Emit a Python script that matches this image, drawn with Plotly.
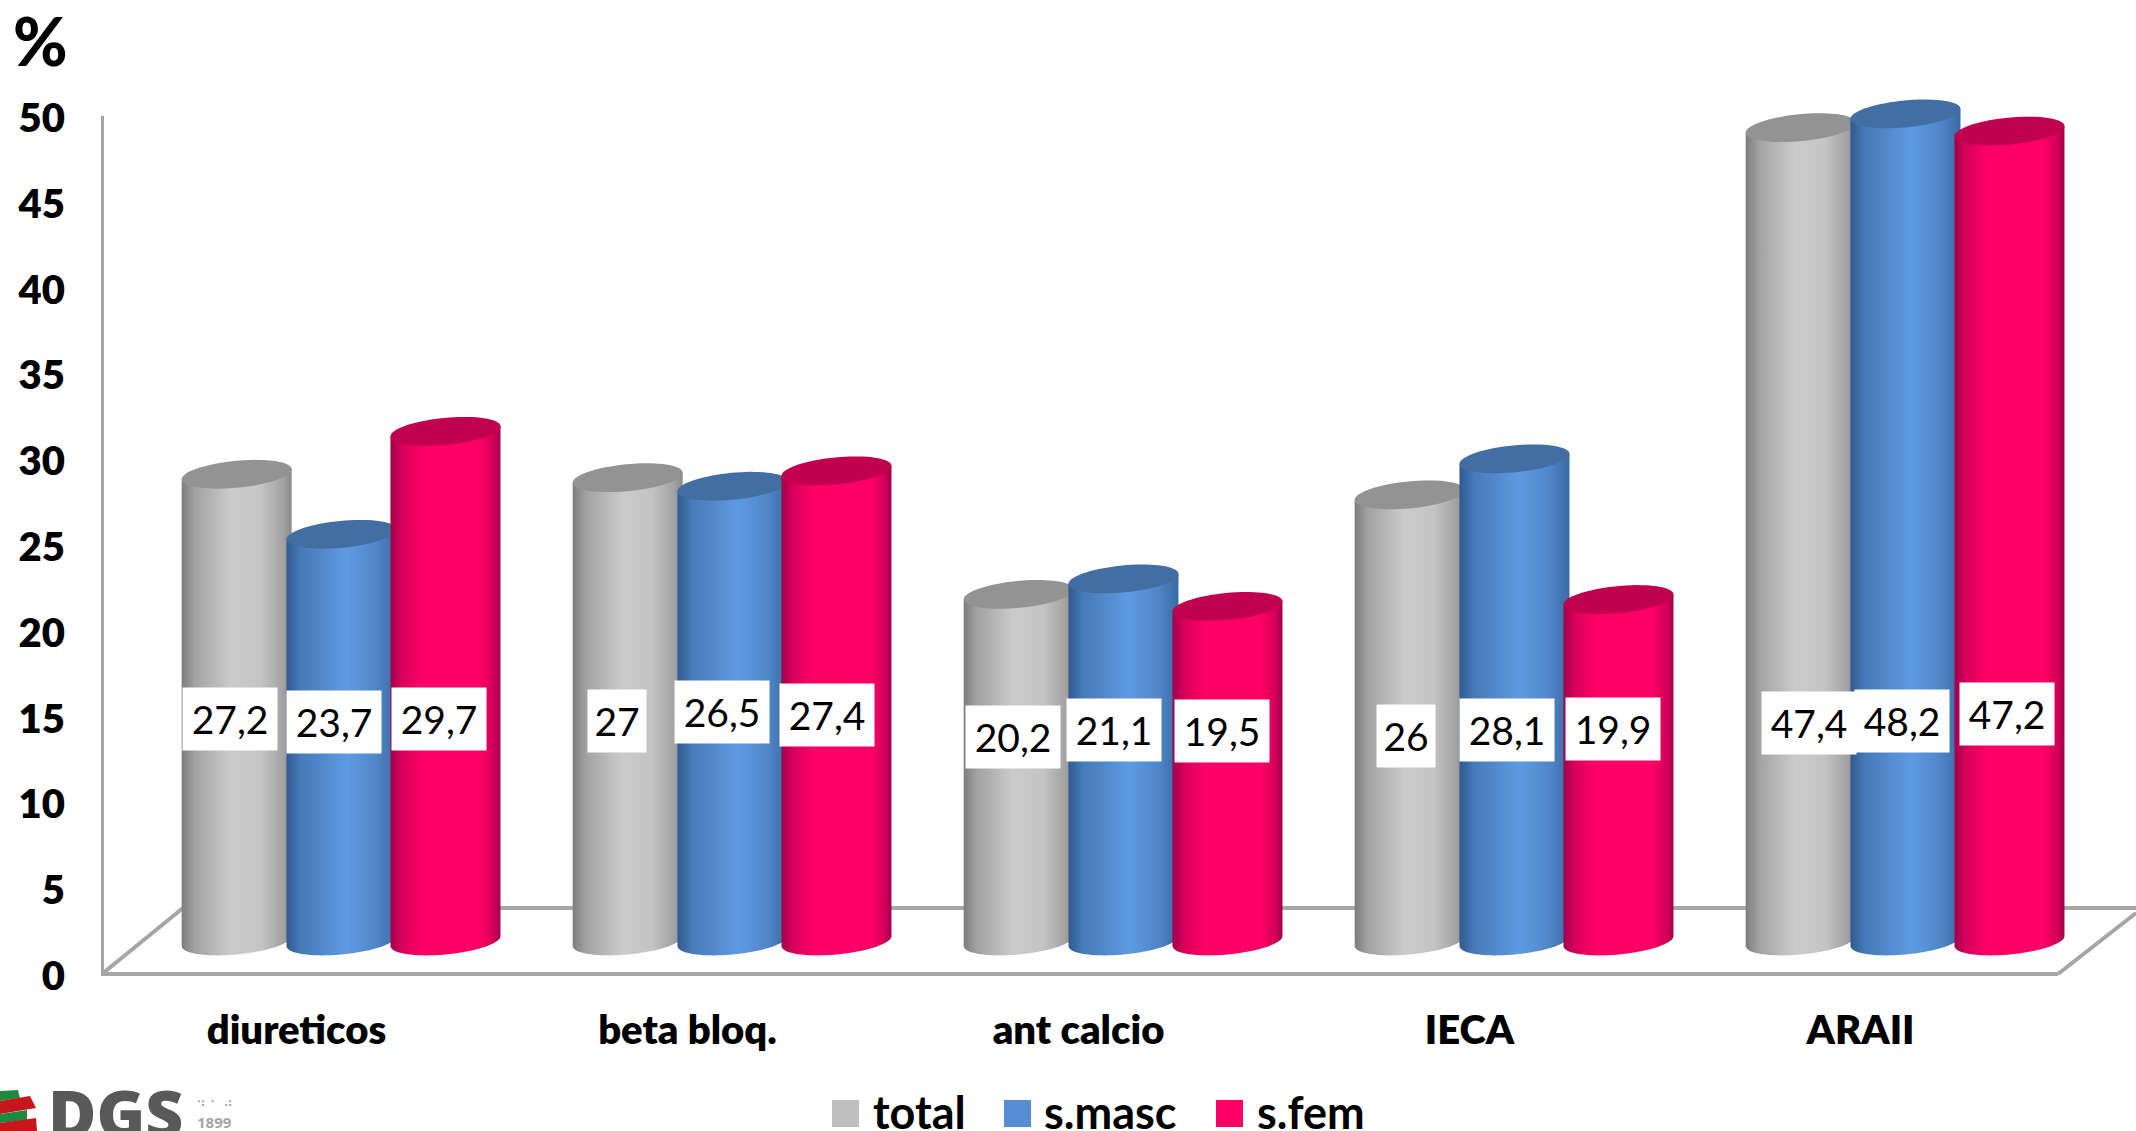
import numpy as np
import plotly.graph_objects as go

CATEGORIES = ["diureticos", "beta bloq.", "ant calcio", "IECA", "ARAII"]
TOTAL = [27.2, 27, 20.2, 26, 47.4]
S_MASC = [23.7, 26.5, 21.1, 28.1, 48.2]
S_FEM = [29.7, 27.4, 19.5, 19.9, 47.2]
TOTAL_TXT = ["27,2", "27", "20,2", "26", "47,4"]
S_MASC_TXT = ["23,7", "26,5", "21,1", "28,1", "48,2"]
S_FEM_TXT = ["29,7", "27,4", "19,5", "19,9", "47,2"]
Y_TICKS = [0, 5, 10, 15, 20, 25, 30, 35, 40, 45, 50]

W, H = 2136, 1131
L, R_PX, T, B_PLOT = 101, 2136, 60, 990  # plot box in pixels
B, AX_TOP = 974, 116                     # pixel heights of the values 0 and 50
PX_X = 391.0
PX_Y = (B - AX_TOP) / 50.0
X0 = -0.5
X1 = X0 + (R_PX - L) / PX_X
FONT = "Lato"
AXC = "#a6a6a6"

def dx(px): return px / PX_X
def dy(px): return px / PX_Y
def X(px): return (px - L) / PX_X + X0
def Y(py): return (B - py) / PX_Y
def PXR(px): return (px - L) / (R_PX - L)
def PYR(py): return (B_PLOT - py) / (B_PLOT - T)

BASE = dy(33)
RX, RY, TILT = dx(55), dy(13.5), dy(5)

STYLE = [
    dict(name="total", vals=TOTAL, txt=TOTAL_TXT, off=-0.153, swatch="#bfbfbf", top="#939393",
         grad=[[0, "#7d7d7d"], [.12, "#a2a2a2"], [.45, "#cbcbcb"], [.72, "#c4c4c4"], [.92, "#a3a3a3"], [1, "#8a8a8a"]]),
    dict(name="s.masc", vals=S_MASC, txt=S_MASC_TXT, off=0.115, swatch="#558ed5", top="#426ea3",
         grad=[[0, "#2f5a8e"], [.13, "#467ab8"], [.55, "#5f9ae2"], [.82, "#4f86c8"], [1, "#3a6ba3"]]),
    dict(name="s.fem", vals=S_FEM, txt=S_FEM_TXT, off=0.381, swatch="#ff0066", top="#c0004e",
         grad=[[0, "#a0004a"], [.1, "#d6005a"], [.3, "#ff0066"], [.8, "#ff0066"], [.93, "#d6005a"], [1, "#a0004c"]]),
]

fig = go.Figure()
t_low = np.linspace(np.pi, 0, 40)
t_all = np.linspace(0, 2 * np.pi, 72)

legend_ids = ["legend", "legend2", "legend3"]
for s, lid in zip(STYLE, legend_ids):
    xs = [i + s["off"] for i in range(len(CATEGORIES))]
    fig.add_trace(go.Bar(
        x=xs, y=s["vals"], base=BASE, width=dx(96), name=s["name"], legend=lid,
        marker=dict(color=s["swatch"], line=dict(width=0)),
    ))

for s in STYLE:
    for i, v in enumerate(s["vals"]):
        cx, top = i + s["off"], BASE + v
        bx = cx + RX * np.cos(t_low)
        by = BASE - RY * np.sin(t_low) + TILT * np.cos(t_low)
        fig.add_trace(go.Scatter(
            x=[cx - RX] + list(bx) + [cx + RX, cx - RX],
            y=[top - TILT] + list(by) + [top + TILT, top - TILT],
            mode="none", fill="toself", fillcolor=s["swatch"],
            fillgradient=dict(type="horizontal", colorscale=s["grad"]),
            showlegend=False, hoverinfo="skip",
        ))
        fig.add_trace(go.Scatter(
            x=cx + RX * np.cos(t_all), y=top + RY * np.sin(t_all) + TILT * np.cos(t_all),
            mode="none", fill="toself", fillcolor=s["top"],
            showlegend=False, hoverinfo="skip",
        ))

# Floor of the 3-D box and the vertical axis
floor = [
    ((102, AX_TOP), (102, 974)),
    ((100, 974), (2058, 974)),
    ((102, 974), (183, 908)),
    ((183, 908), (2136, 908)),
    ((2058, 974), (2136, 913)),
]
shapes = [dict(type="line", xref="x", yref="y", x0=X(a[0]), y0=Y(a[1]), x1=X(b[0]), y1=Y(b[1]),
               line=dict(color=AXC, width=4), layer="below") for a, b in floor]

# Data labels
LABEL_X = [[230, 334, 439], [617, 722, 827], [1013, 1114, 1222], [1406, 1507, 1613], [1809, 1902, 2007]]
LABEL_Y = [[719, 722, 719], [721, 712, 715], [737, 730, 731], [736, 730, 729], [723, 721, 714]]
ann = []
for i in range(5):
    for j, s in enumerate(STYLE):
        t = s["txt"][i]
        ann.append(dict(x=X(LABEL_X[i][j]), y=Y(LABEL_Y[i][j]), text=t, showarrow=False,
                        xref="x", yref="y", bgcolor="white", width=92 if len(t) > 2 else 56, height=60,
                        font=dict(family=FONT, size=39, color="black")))

def note(px, py, text, family, size, color, weight="normal"):
    ann.append(dict(x=PXR(px), y=PYR(py), xref="paper", yref="paper", text=text, showarrow=False,
                    xanchor="center", yanchor="middle",
                    font=dict(family=family, size=size, color=color, weight=weight)))

note(40, 41, "%", FONT, 66, "black", 900)

# Legend colour squares
for px0, c in zip([832, 1004, 1216], ["#bfbfbf", "#558ed5", "#ff0066"]):
    shapes.append(dict(type="rect", xref="paper", yref="paper", x0=PXR(px0), x1=PXR(px0 + 27),
                       y0=PYR(1127), y1=PYR(1100), fillcolor=c, line=dict(width=0), layer="above"))

# DGS logo
def poly(pts, c):
    d = "M" + "L".join(f"{PXR(a)},{PYR(b)}" for a, b in pts) + "Z"
    return dict(type="path", xref="paper", yref="paper", path=d, fillcolor=c, line=dict(width=0), layer="above")
shapes += [
    poly([(0, 1091), (18, 1090), (20, 1098), (0, 1101)], "#1f8a3f"),
    poly([(0, 1101), (30, 1096), (36, 1108), (0, 1114)], "#c8161d"),
    poly([(0, 1114), (27, 1110), (27, 1120), (0, 1123)], "#1f8a3f"),
    poly([(0, 1123), (36, 1118), (37, 1131), (0, 1131)], "#c8161d"),
]
note(115, 1112, "DGS", "Open Sans", 66, "#595959", 800)
note(214, 1122, "<b>1899</b>", "Open Sans", 15, "#a6a6a6")
note(214, 1102, "⠲ ⠂ ⠴", "DejaVu Sans", 13, "#a6a6a6")

leg = dict(yanchor="middle", xanchor="left", bgcolor="rgba(0,0,0,0)", borderwidth=0,
           font=dict(family=FONT, size=45, color="black", weight="bold"), orientation="h", y=PYR(1112))
fig.update_layout(
    width=W, height=H, paper_bgcolor="white", plot_bgcolor="white",
    margin=dict(l=L, r=W - R_PX, t=T, b=H - B_PLOT, pad=0, autoexpand=False),
    barmode="overlay", bargap=0,
    xaxis=dict(range=[X0, X1], tickmode="array", tickvals=list(range(5)), ticktext=list(CATEGORIES),
               showgrid=False, zeroline=False, showline=False, ticks="", ticklabelstandoff=13,
               tickfont=dict(family=FONT, size=40, color="black", weight=800)),
    yaxis=dict(range=[Y(B_PLOT), Y(T)], tickmode="array", tickvals=[v - dy(2) for v in Y_TICKS],
               ticktext=[str(v) for v in Y_TICKS],
               showgrid=False, zeroline=False, showline=False, ticks="",
               ticklabelstandoff=35, tickfont=dict(family=FONT, size=40, color="black", weight=800)),
    shapes=shapes, annotations=ann,
    legend=dict(leg, x=PXR(833)),
    legend2=dict(leg, x=PXR(1004)),
    legend3=dict(leg, x=PXR(1217)),
    showlegend=True,
)
fig.write_html("out.html", config={"displayModeBar": False},
               post_script="document.body.style.margin='0';document.body.style.overflow='hidden';")
